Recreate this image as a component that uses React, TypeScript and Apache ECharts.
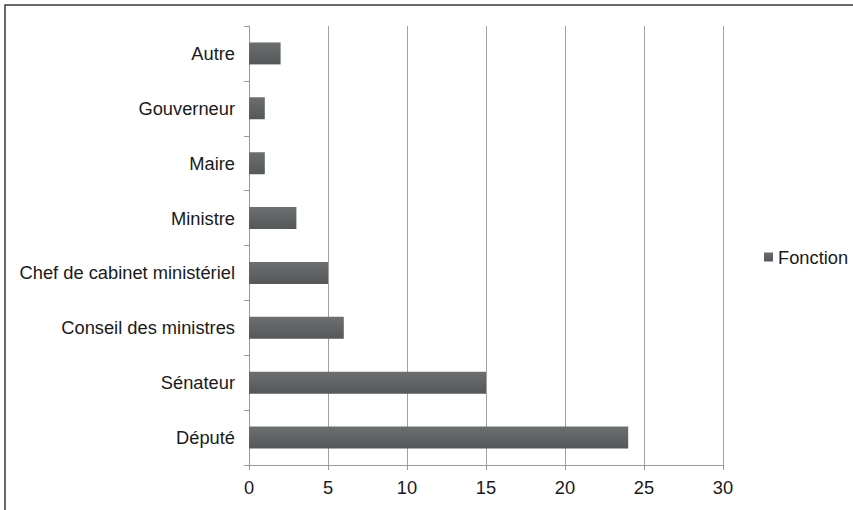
import React, { useEffect, useRef } from "react";
import * as echarts from "echarts";

const categories = [
  "Député",
  "Sénateur",
  "Conseil des ministres",
  "Chef de cabinet ministériel",
  "Ministre",
  "Maire",
  "Gouverneur",
  "Autre",
];
const values = [24, 15, 6, 5, 3, 1, 1, 2];
const seriesName = "Fonction";
const xMin = 0;
const xMax = 30;
const xStep = 5;

const FONT = "'Liberation Sans', Arial, sans-serif";
const FS = 18.3;

export default function App() {
  const ref = useRef<HTMLDivElement>(null);
  useEffect(() => {
    if (!ref.current) return;
    const chart = echarts.init(ref.current, undefined, { renderer: "svg" });
    const barColor = new echarts.graphic.LinearGradient(0, 0, 0, 1, [
      { offset: 0, color: "#6b6f6f" },
      { offset: 1, color: "#555858" },
    ]);
    chart.setOption({
      animation: false,
      backgroundColor: "#ffffff",
      textStyle: { fontFamily: FONT },
      graphic: [
        {
          type: "rect",
          shape: { x: 5, y: 5, width: 900, height: 600 },
          style: { fill: "none", stroke: "#3a3a3a", lineWidth: 1.5 },
          silent: true,
        },
      ],
      legend: {
        data: [seriesName],
        left: 764,
        top: 248,
        padding: 0,
        icon: "rect",
        itemWidth: 9,
        itemHeight: 9,
        textStyle: { fontSize: FS, color: "#1a1a1a", fontFamily: FONT, lineHeight: 18 },
      },
      grid: { left: 249, right: 130, top: 26, bottom: 45, containLabel: false },
      xAxis: {
        type: "value",
        min: xMin,
        max: xMax,
        interval: xStep,
        axisLine: { show: true, lineStyle: { color: "#999999", width: 1 } },
        axisTick: { show: true, length: 5, lineStyle: { color: "#999999" } },
        splitLine: { show: true, lineStyle: { color: "#a0a0a0", width: 1 } },
        axisLabel: { fontSize: FS, color: "#1a1a1a", margin: 13, fontFamily: FONT },
      },
      yAxis: {
        type: "category",
        data: categories,
        axisLine: { show: true, lineStyle: { color: "#999999", width: 1 } },
        axisTick: { show: true, length: 5, interval: 0, lineStyle: { color: "#999999" } },
        axisLabel: { fontSize: FS, color: "#1a1a1a", margin: 14, fontFamily: FONT },
        splitLine: { show: false },
      },
      series: [
        {
          name: seriesName,
          type: "bar",
          data: values,
          barWidth: "40%",
          itemStyle: { color: barColor },
        },
      ],
    });
    return () => chart.dispose();
  }, []);
  return (
    <div
      ref={ref}
      style={{ position: "fixed", left: 0, top: 0, width: 853, height: 510, background: "#fff" }}
    />
  );
}
